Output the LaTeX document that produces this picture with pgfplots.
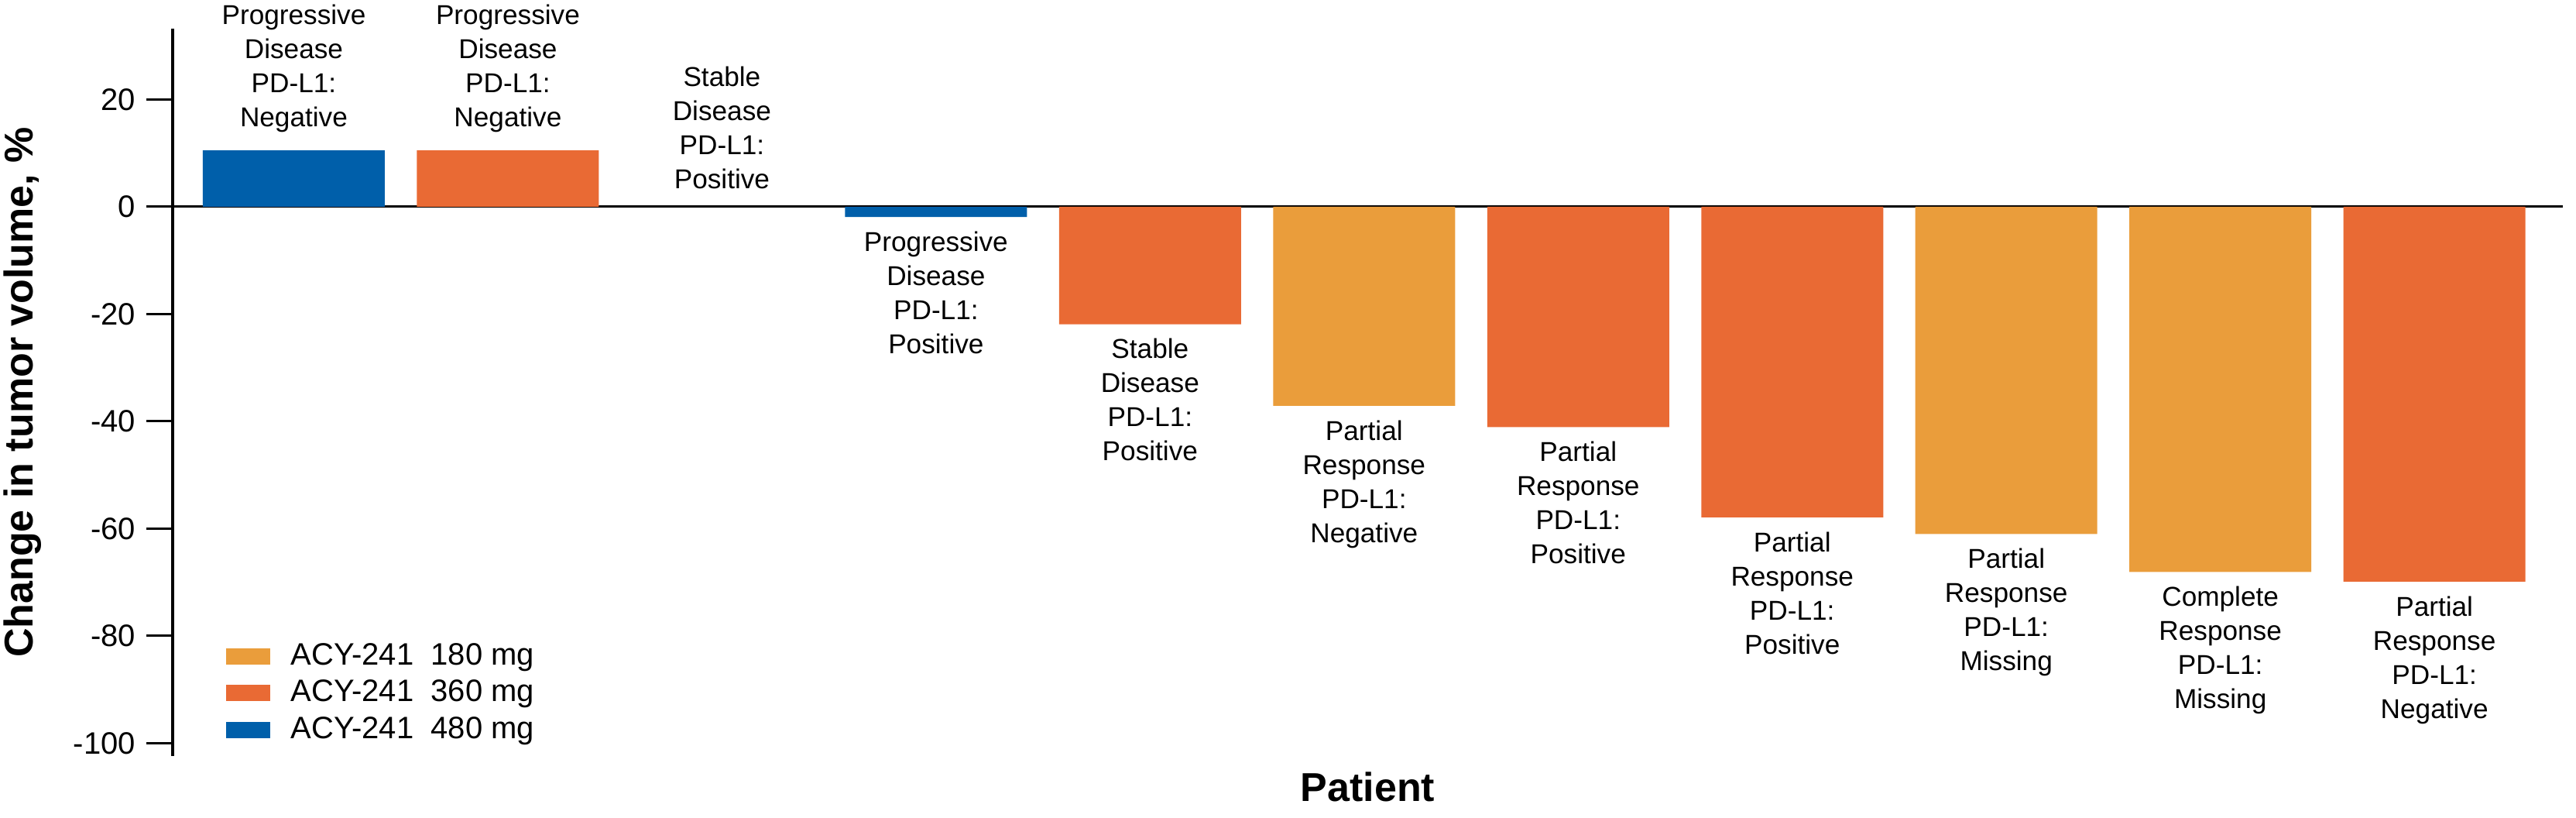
\documentclass[border=0pt]{standalone}
\usepackage{fontspec}
\setmainfont{Liberation Sans}
\usepackage{pgfplots}
\pgfplotsset{compat=1.18}
\definecolor{cblue}{RGB}{0,95,170}
\definecolor{corange}{RGB}{233,106,52}
\definecolor{clight}{RGB}{234,157,59}
\newcommand{\lbl}{\fontsize{8.8}{11}\selectfont}
\newcommand{\tck}{\fontsize{10}{12}\selectfont}
\begin{document}
\begin{tikzpicture}
\begin{axis}[
  name=ax, at={(0,0)}, anchor=south west,
  scale only axis, width=771.75pt, height=234.75pt,
  xmin=0.434, xmax=11.6, ymin=-102.4, ymax=33.2,
  axis y line=left, axis x line=middle,
  axis line style={-, black, line width=0.8pt},
  xtick=\empty,
  ytick={-100,-80,-60,-40,-20,0,20},
  yticklabels={-100,-80,-60,-40,-20,0,20},
  tick style={black, line width=0.8pt},
  major tick length=8.5pt, tick align=outside,
  yticklabel style={font=\tck},
  clip=false,
  every axis y label/.style={at={(axis description cs:-0.0628,0.5)}, rotate=90, anchor=center, font=\bfseries\fontsize{13}{15}\selectfont},
  every axis x label/.style={at={(axis description cs:0.5,0)}, anchor=base, yshift=-14.75pt, font=\bfseries\fontsize{13}{15}\selectfont},
  ylabel={Change in tumor volume, \%},
  xlabel={Patient},
  legend style={draw=none, fill=none, at={(axis description cs:0,0)}, anchor=south west, xshift=14pt, yshift=0pt, font=\tck, row sep=-0.6pt},
  legend cell align=left,
  legend image code/.code={\fill[#1] (0pt,-2.6pt) rectangle (14.25pt,2.6pt); \path (19pt,0pt);},
]
\addplot[ybar, bar width=0.85, fill=clight, draw=none] coordinates {(6,-37.1) (9,-61.0) (10,-68.1)};
\addlegendentry{ACY-241~~180 mg}
\addplot[ybar, bar width=0.85, fill=corange, draw=none] coordinates {(2,10.5) (5,-21.9) (7,-41.1) (8,-57.9) (11,-69.9)};
\addlegendentry{ACY-241~~360 mg}
\addplot[ybar, bar width=0.85, fill=cblue, draw=none] coordinates {(1,10.5) (4,-1.9)};
\addlegendentry{ACY-241~~480 mg}
\begin{scope}[every node/.style={font=\lbl, align=center, inner sep=0pt}]
\node[anchor=south, yshift=5.65pt] at (axis cs:1,10.5) {Progressive\\Disease\\PD-L1:\\Negative};
\node[anchor=south, yshift=5.65pt] at (axis cs:2,10.5) {Progressive\\Disease\\PD-L1:\\Negative};
\node[anchor=south, yshift=5.65pt] at (axis cs:3,0) {Stable\\Disease\\PD-L1:\\Positive};
\node[anchor=north, yshift=-4.5pt] at (axis cs:4,-1.9) {Progressive\\Disease\\PD-L1:\\Positive};
\node[anchor=north, yshift=-4.5pt] at (axis cs:5,-21.9) {Stable\\Disease\\PD-L1:\\Positive};
\node[anchor=north, yshift=-4.5pt] at (axis cs:6,-37.1) {Partial\\Response\\PD-L1:\\Negative};
\node[anchor=north, yshift=-4.5pt] at (axis cs:7,-41.1) {Partial\\Response\\PD-L1:\\Positive};
\node[anchor=north, yshift=-4.5pt] at (axis cs:8,-57.9) {Partial\\Response\\PD-L1:\\Positive};
\node[anchor=north, yshift=-4.5pt] at (axis cs:9,-61.0) {Partial\\Response\\PD-L1:\\Missing};
\node[anchor=north, yshift=-4.5pt] at (axis cs:10,-68.1) {Complete\\Response\\PD-L1:\\Missing};
\node[anchor=north, yshift=-4.5pt] at (axis cs:11,-69.9) {Partial\\Response\\PD-L1:\\Negative};
\end{scope}
\end{axis}
\pgfresetboundingbox
\path[use as bounding box] (-55.75pt,-20pt) rectangle (776pt,244pt);
\end{tikzpicture}
\end{document}
